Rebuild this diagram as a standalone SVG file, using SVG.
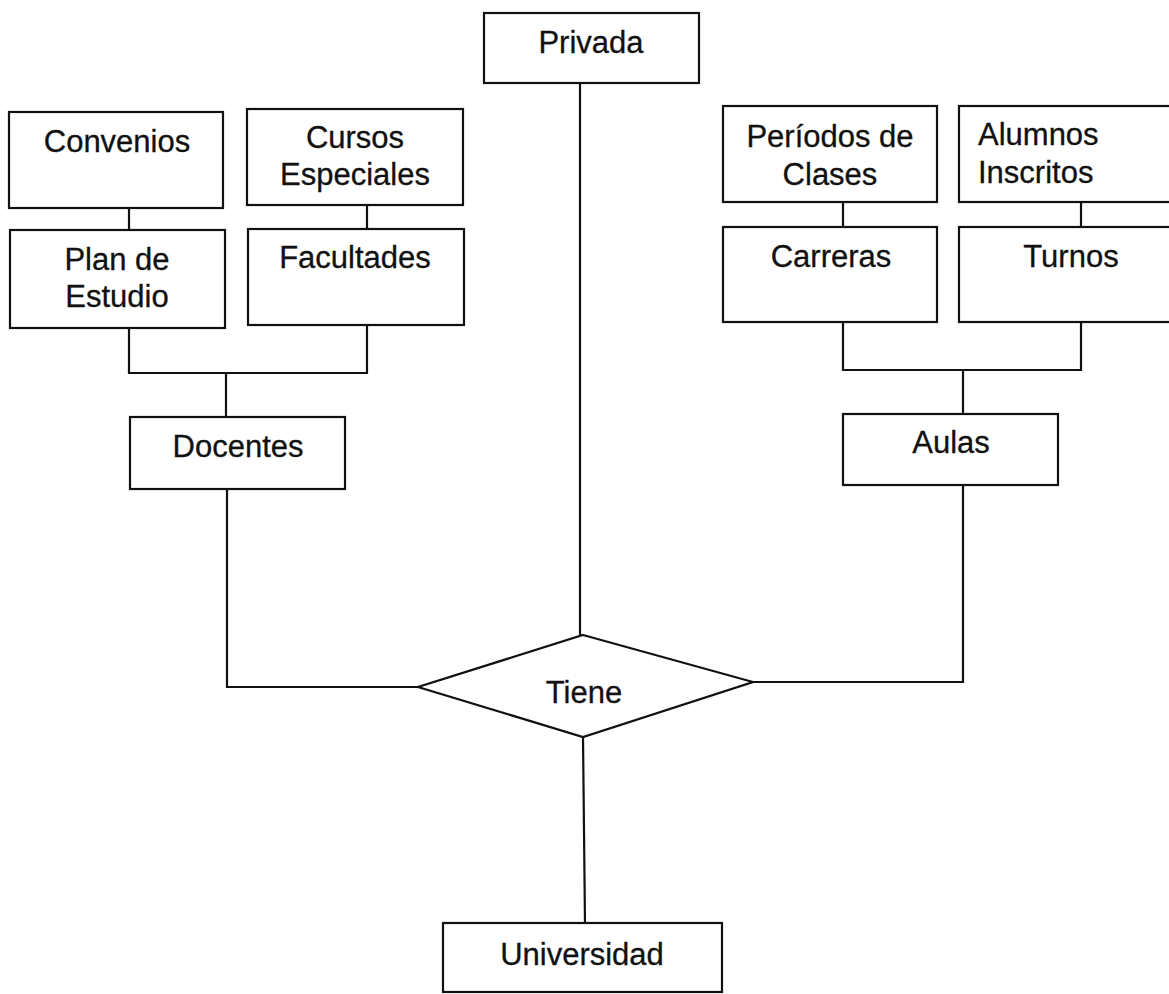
<svg xmlns="http://www.w3.org/2000/svg" width="1169" height="994" viewBox="0 0 1169 994">
<style>
.box{fill:#fff;stroke:#111;stroke-width:2.2}
.ln{fill:none;stroke:#111;stroke-width:2.2}
text{font-family:"Liberation Sans",Arial,sans-serif;font-size:31px;fill:#111;stroke:#111;stroke-width:0.3}
.c{text-anchor:middle}
</style>
<rect width="1169" height="994" fill="#fff"/>
<g id="connectors">
<polyline class="ln" points="580,83 580,635"/>
<polyline class="ln" points="129,208 129,230"/>
<polyline class="ln" points="367,205 367,229"/>
<polyline class="ln" points="843,202 843,227"/>
<polyline class="ln" points="1081,202 1081,227"/>
<polyline class="ln" points="129,328 129,373 367,373 367,325"/>
<polyline class="ln" points="226,373 226,417"/>
<polyline class="ln" points="843,322 843,370 1081,370 1081,322"/>
<polyline class="ln" points="963,370 963,414"/>
<polyline class="ln" points="227,489 227,687 418,687"/>
<polyline class="ln" points="963,485 963,682 753,682"/>
<polyline class="ln" points="583,737 585,923"/>
</g>
<g id="privada"><rect class="box" x="484" y="13" width="215" height="70"/><text class="c" x="591" y="53">Privada</text></g>
<g id="convenios"><rect class="box" x="9" y="112" width="214" height="96"/><text class="c" x="117" y="152">Convenios</text></g>
<g id="cursos"><rect class="box" x="247" y="109" width="216" height="96"/><text class="c" x="355" y="148">Cursos</text><text class="c" x="355" y="185">Especiales</text></g>
<g id="plan"><rect class="box" x="10" y="230" width="215" height="98"/><text class="c" x="117" y="270">Plan de</text><text class="c" x="117" y="307">Estudio</text></g>
<g id="facultades"><rect class="box" x="248" y="229" width="216" height="96"/><text class="c" x="355" y="268">Facultades</text></g>
<g id="periodos"><rect class="box" x="723" y="106" width="214" height="96"/><text class="c" x="830" y="147">Períodos de</text><text class="c" x="830" y="185">Clases</text></g>
<g id="alumnos"><rect class="box" x="959" y="106" width="220" height="96"/><text x="978" y="145">Alumnos</text><text x="978" y="183">Inscritos</text></g>
<g id="carreras"><rect class="box" x="723" y="227" width="214" height="95"/><text class="c" x="831" y="267">Carreras</text></g>
<g id="turnos"><rect class="box" x="959" y="227" width="220" height="95"/><text class="c" x="1071" y="267">Turnos</text></g>
<g id="docentes"><rect class="box" x="130" y="417" width="215" height="72"/><text class="c" x="238" y="457">Docentes</text></g>
<g id="aulas"><rect class="box" x="843" y="414" width="215" height="71"/><text class="c" x="951" y="453">Aulas</text></g>
<g id="tiene"><polygon class="box" points="583,635 753,682 583,737 418,687"/><text class="c" x="584" y="703">Tiene</text></g>
<g id="universidad"><rect class="box" x="443" y="923" width="279" height="69"/><text class="c" x="582" y="965">Universidad</text></g>
</svg>
